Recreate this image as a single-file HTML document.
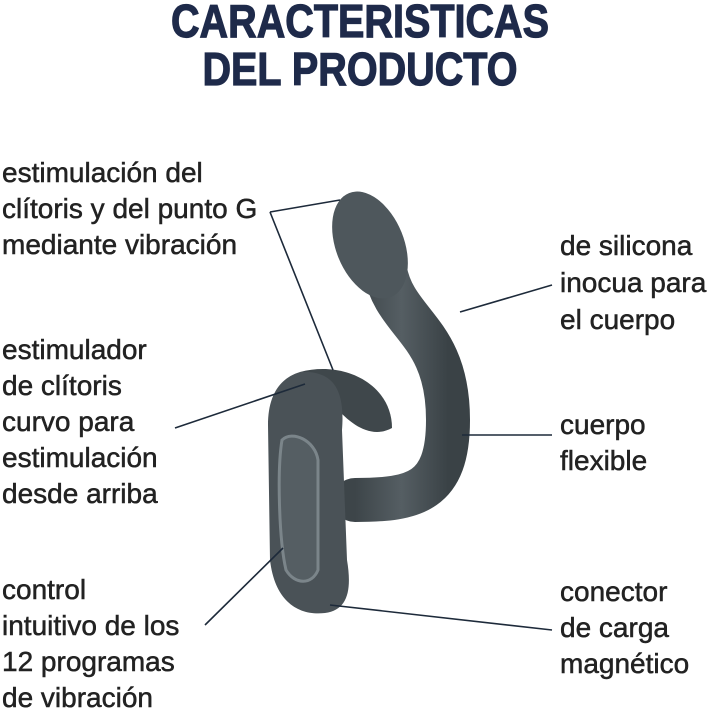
<!DOCTYPE html>
<html><head><meta charset="utf-8"><style>
body{margin:0;width:720px;height:713px;background:#fff;position:relative;overflow:hidden;font-family:"Liberation Sans",sans-serif}
.t{position:absolute;left:0;width:720px;text-align:center;font-weight:bold;color:#1e2a4a;font-size:46px;line-height:46px;transform:scaleX(0.86);-webkit-text-stroke:1.2px #1e2a4a}
.l{position:absolute;font-size:28px;color:#222;line-height:36px;white-space:nowrap;-webkit-text-stroke:0.5px #222}
svg{position:absolute;left:0;top:0}
</style></head><body>
<div class="t" style="top:-2px">CARACTERISTICAS</div>
<div class="t" style="top:46px">DEL PRODUCTO</div>
<svg width="720" height="713">
<defs><linearGradient id="g" x1="0" x2="1"><stop offset="0" stop-color="#3d4549"/><stop offset=".5" stop-color="#555e63"/><stop offset="1" stop-color="#3a4246"/></linearGradient></defs>
<path d="M385,270 C395,325 448,330 448,420 C448,492 415,500 355,500" fill="none" stroke="url(#g)" stroke-width="44" stroke-linecap="round"/>
<ellipse cx="370" cy="245" rx="34" ry="56" transform="rotate(-22 370 245)" fill="#4e575c"/>
<path d="M300,372 C345,360 392,385 392,428 C370,440 350,422 340,412 Z" fill="#3f474b"/>
<path d="M300,372 C280,378 268,395 268,425 L270,560 C275,603 300,616 325,613 C348,610 352,590 347,560 L342,430 C345,392 335,370 300,372 Z" fill="#4a5257"/>
<path d="M282,440 C292,430 315,440 318,460 L318,570 C312,585 295,585 286,570 C279,540 277,470 282,440 Z" fill="#555e63" stroke="#7b858a" stroke-width="3"/>
<g stroke="#1d2a3a" stroke-width="1.6" fill="none">
<path d="M270,212 L340,200 M270,212 L333,370"/>
<path d="M460,312 L552,285"/>
<path d="M462,435 L552,435"/>
<path d="M175,428 L305,384"/>
<path d="M205,625 L283,548"/>
<path d="M330,605 L552,630"/>
</g>
</svg>
<div class="l" style="left:2px;top:155px">estimulación del<br>clítoris y del punto G<br>mediante vibración</div>
<div class="l" style="left:2px;top:332px">estimulador<br>de clítoris<br>curvo para<br>estimulación<br>desde arriba</div>
<div class="l" style="left:2px;top:572px">control<br>intuitivo de los<br>12 programas<br>de vibración</div>
<div class="l" style="left:560px;top:227px;line-height:37px">de silicona<br>inocua para<br>el cuerpo</div>
<div class="l" style="left:560px;top:407px">cuerpo<br>flexible</div>
<div class="l" style="left:560px;top:574px">conector<br>de carga<br>magnético</div>
</body></html>
